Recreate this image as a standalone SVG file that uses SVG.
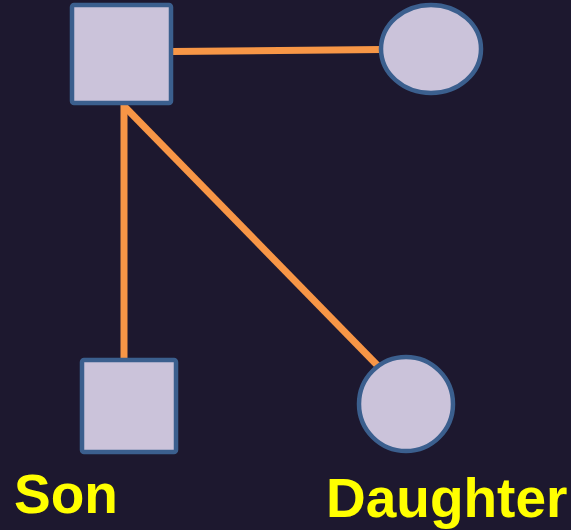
<svg xmlns="http://www.w3.org/2000/svg" width="571" height="530" viewBox="0 0 571 530">
<style>
.node{fill:#cbc3da;stroke:#3b5f8e;stroke-width:4.5}
.link{stroke:#f79646;stroke-width:7;fill:none}
.lbl{font-family:"Liberation Sans",Arial,sans-serif;font-weight:bold;font-size:55px;fill:#ffff00}
</style>
<rect width="571" height="530" fill="#1d182f"/>
<g id="connectors">
<line class="link" x1="172" y1="51.5" x2="382" y2="49.5"/>
<line class="link" x1="124" y1="104" x2="124" y2="359"/>
<line class="link" x1="124" y1="106" x2="380" y2="368"/>
</g>
<g id="father"><rect class="node" x="72" y="5" width="99" height="98" rx="2"/></g>
<g id="mother"><ellipse class="node" cx="431" cy="49" rx="50" ry="44"/></g>
<g id="son"><rect class="node" x="82" y="360" width="94" height="92" rx="2"/>
<text class="lbl" x="14" y="513">Son</text></g>
<g id="daughter"><circle class="node" cx="406" cy="404" r="47"/>
<text class="lbl" x="326" y="517">Daughter</text></g>
</svg>
